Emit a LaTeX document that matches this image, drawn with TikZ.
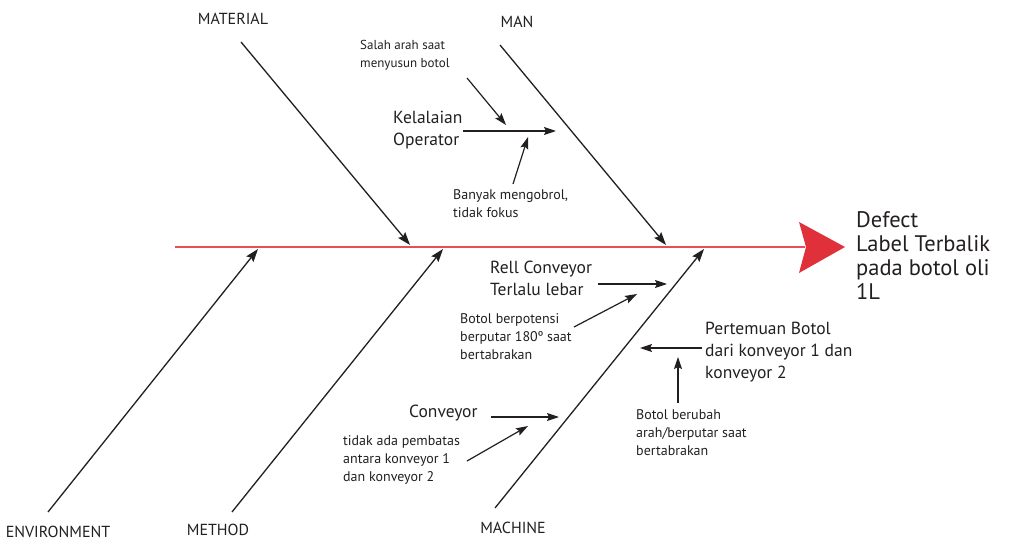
\documentclass[tikz,border=0pt]{standalone}
\usepackage{fontspec}
\setmainfont{PT Sans}
\usetikzlibrary{arrows.meta}
\definecolor{spinered}{HTML}{E0303A}
\definecolor{txt}{HTML}{231F20}
\tikzset{
  bone/.style={line width=1.3pt, draw=txt, -{Stealth[length=13pt,width=9pt,inset=2pt]}},
  sub/.style={line width=1.2pt, draw=txt, -{Stealth[length=12pt,width=8pt,inset=2pt]}},
  cat/.style={font=\fontsize{16}{18}\selectfont, text=txt, inner sep=0pt},
  mid/.style={font=\fontsize{17.5}{22}\selectfont, text=txt, inner sep=0pt, align=left},
  small/.style={font=\fontsize{14}{18}\selectfont, text=txt, inner sep=0pt, align=left},
}
\begin{document}
\begin{tikzpicture}[x=1pt,y=-1pt]
\useasboundingbox (0,0) rectangle (1009,545);
% spine
\coordinate (s0) at (175,247);
\coordinate (s1) at (805,247);
\draw[line width=1.3pt, draw=spinered!85] (s0) -- (s1);
\fill[spinered] (799,222) -- (845,247) -- (799,273) -- (806,247) -- cycle;
\node[font=\fontsize{22.5}{24}\selectfont, text=txt, align=left, anchor=north west, inner sep=0pt] (defect) at (856,211) {Defect\\Label Terbalik\\pada botol oli\\1L};
% categories
\node[cat] (material) at (233,19) {MATERIAL};
\node[cat] (man) at (517,22) {MAN};
\node[cat] (env) at (58,532) {ENVIRONMENT};
\node[cat] (method) at (218,530) {METHOD};
\node[cat] (machine) at (513,528) {MACHINE};
\coordinate (materialT) at (241,42);
\coordinate (materialH) at (410,245);
\coordinate (manT) at (500,45);
\coordinate (manH) at (666,245);
\coordinate (envT) at (48,512);
\coordinate (envH) at (258,249);
\coordinate (methodT) at (232,512);
\coordinate (methodH) at (443,249);
\coordinate (machineT) at (495,508);
\coordinate (machineH) at (704,249);
\draw[bone] (materialT) -- (materialH);
\draw[bone] (manT) -- (manH);
\draw[bone] (envT) -- (envH);
\draw[bone] (methodT) -- (methodH);
\draw[bone] (machineT) -- (machineH);
% MAN causes
\node[mid, anchor=north west] (kel) at (393,111) {Kelalaian\\Operator};
\coordinate (kelT) at (463,131);
\coordinate (kelH) at (556,131);
\draw[sub] (kelT) -- (kelH);
\node[small, font=\fontsize{13}{18}\selectfont, anchor=north west] (salah) at (360,40) {Salah arah saat\\menyusun botol};
\coordinate (salahT) at (467,78);
\coordinate (salahH) at (506,125);
\draw[sub] (salahT) -- (salahH);
\node[small, anchor=north west] (banyak) at (453,189) {Banyak mengobrol,\\tidak fokus};
\coordinate (banyakT) at (513,184);
\coordinate (banyakH) at (528,137);
\draw[sub] (banyakT) -- (banyakH);
% MACHINE causes
\node[mid, anchor=north west] (rell) at (490,261) {Rell Conveyor\\Terlalu lebar};
\coordinate (rellT) at (598,284);
\coordinate (rellH) at (667,284);
\draw[sub] (rellT) -- (rellH);
\node[small, anchor=north west] (botolA) at (460,313) {Botol berpotensi\\berputar 180º saat\\bertabrakan};
\coordinate (botolAT) at (574,327);
\coordinate (botolAH) at (637,294);
\draw[sub] (botolAT) -- (botolAH);
\node[mid, anchor=north west] (pert) at (705,322) {Pertemuan Botol\\dari konveyor 1 dan\\konveyor 2};
\coordinate (pertT) at (702,348);
\coordinate (pertH) at (640,348);
\draw[sub] (pertT) -- (pertH);
\node[small, anchor=north west] (botolB) at (636,409) {Botol berubah\\arah/berputar saat\\bertabrakan};
\coordinate (botolBT) at (678,403);
\coordinate (botolBH) at (678,357);
\draw[sub] (botolBT) -- (botolBH);
\node[mid, anchor=west] (conv) at (409,413) {Conveyor};
\coordinate (convT) at (491,417);
\coordinate (convH) at (559,417);
\draw[sub] (convT) -- (convH);
\node[small, anchor=north west] (tidak) at (343,435) {tidak ada pembatas\\antara konveyor 1\\dan konveyor 2};
\coordinate (tidakT) at (467,461);
\coordinate (tidakH) at (528,426);
\draw[sub] (tidakT) -- (tidakH);
\end{tikzpicture}
\end{document}
